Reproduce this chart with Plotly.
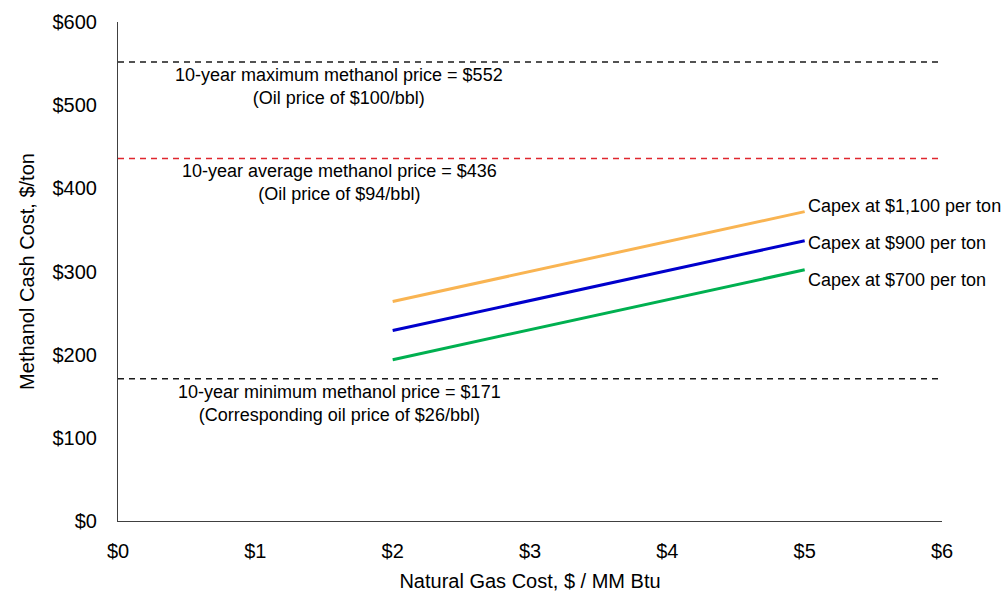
import plotly.graph_objects as go

# Natural gas cost ($/MM Btu) at the two ends of each cost line
gas_cost = [2, 5]

# Methanol cash cost ($/ton) by plant capex
capex_1100 = [264, 372]
capex_900 = [229, 337]
capex_700 = [194, 302]

series_names = ["Capex at $1,100 per ton", "Capex at $900 per ton", "Capex at $700 per ton"]
series_values = [capex_1100, capex_900, capex_700]
series_colors = ["#F9B452", "#0000CC", "#00B050"]
label_yshift = [6, -2, -10]

# Ten-year methanol price reference levels
ref_prices = [552, 436, 171]
ref_labels = [
    "10-year maximum methanol price = $552<br>(Oil price of $100/bbl)",
    "10-year average methanol price = $436<br>(Oil price of $94/bbl)",
    "10-year minimum methanol price = $171<br>(Corresponding oil price of $26/bbl)",
]
ref_colors = ["#1a1a1a", "#E0262E", "#1a1a1a"]

x_ticks = [0, 1, 2, 3, 4, 5, 6]
y_ticks = [0, 100, 200, 300, 400, 500, 600]

FONT = "Liberation Sans, Arial, sans-serif"

fig = go.Figure()

for name, vals, color, dy in zip(series_names, series_values, series_colors, label_yshift):
    fig.add_trace(go.Scatter(
        x=gas_cost, y=vals, mode="lines", name=name,
        line=dict(color=color, width=3), showlegend=False,
    ))
    fig.add_annotation(
        x=gas_cost[-1], y=vals[-1], text=name, showarrow=False,
        xanchor="left", yanchor="middle", xshift=1, yshift=dy,
        font=dict(family=FONT, size=18, color="#000000"),
    )

for price, label, color in zip(ref_prices, ref_labels, ref_colors):
    fig.add_trace(go.Scatter(
        x=[0, 6], y=[price, price], mode="lines",
        line=dict(color=color, width=1.5, dash="6px,5px"),
        showlegend=False, hoverinfo="skip",
    ))
    fig.add_annotation(
        x=1.61, y=price, text=label, showarrow=False,
        xanchor="center", yanchor="top", yshift=-1,
        font=dict(family=FONT, size=18, color="#000000"),
    )

fig.update_layout(
    width=1008, height=593,
    margin=dict(l=118, r=66, t=22, b=72),
    paper_bgcolor="white", plot_bgcolor="white",
    font=dict(family=FONT, size=20, color="#000000"),
)
fig.update_xaxes(
    range=[0, 6], tickvals=x_ticks, ticktext=[f"${v}" for v in x_ticks],
    showline=True, linecolor="#404040", linewidth=1, showgrid=False, zeroline=False,
    ticks="outside", ticklen=12, tickcolor="rgba(0,0,0,0)", tickfont=dict(size=20),
    title=dict(text="Natural Gas Cost, $ / MM Btu", font=dict(size=20), standoff=12),
    automargin=False,
)
fig.update_yaxes(
    range=[0, 600], tickvals=y_ticks, ticktext=[f"${v}" for v in y_ticks],
    showline=True, linecolor="#404040", linewidth=1, showgrid=False, zeroline=False,
    ticks="outside", ticklen=16, tickcolor="rgba(0,0,0,0)", tickfont=dict(size=20),
    title=dict(text="Methanol Cash Cost, $/ton", font=dict(size=20), standoff=12),
    automargin=False,
)

fig.write_html("out.html")
